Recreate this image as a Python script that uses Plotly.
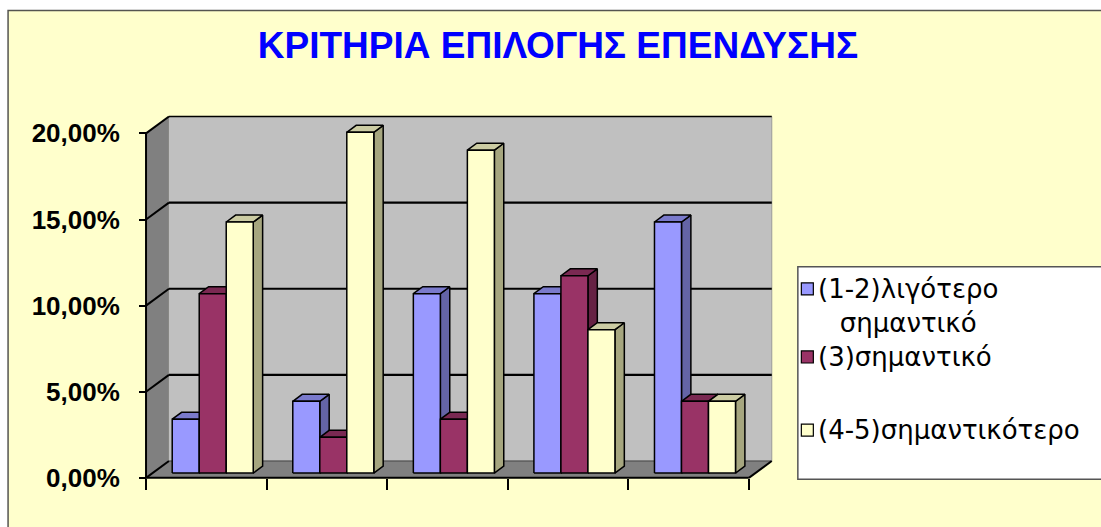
import plotly.graph_objects as go

# ---- data -------------------------------------------------------------
categories = ["", "", "", "", ""]  # the five groups carry no axis labels
series_names = ["(1-2)λιγότερο σημαντικό", "(3)σημαντικό", "(4-5)σημαντικότερο"]
less_important = [3.13, 4.17, 10.42, 10.42, 14.58]
important = [10.42, 2.08, 3.13, 11.46, 4.17]
more_important = [14.58, 19.79, 18.75, 8.33, 4.17]
y_tick_values = [0, 5, 10, 15, 20]
y_tick_labels = ["0,00%", "5,00%", "10,00%", "15,00%", "20,00%"]
title_text = "ΚΡΙΤΗΡΙΑ ΕΠΙΛΟΓΗΣ ΕΠΕΝΔΥΣΗΣ"

series_values = [less_important, important, more_important]

# ---- styling ----------------------------------------------------------
FRONT = ["#9999FF", "#993366", "#FFFFCC"]
TOP = ["#7A7ACC", "#7A2952", "#CCCCA3"]
SIDE = ["#6464A6", "#662244", "#A6A67F"]
BACK_WALL = "#C0C0C0"
SIDE_WALL = "#808080"
FLOOR = "#808080"
CHART_BG = "#FFFFCC"
FONT = "Arial, Liberation Sans, sans-serif"
LEGEND_FONT = "DejaVu Sans, Verdana, sans-serif"

W, H = 1101, 527
PX_CAT = 120.6     # pixels per category
PX_PCT = 17.2      # pixels per percent
X0_PX = 146.0      # pixel of the front-left corner (x = -0.5)
Y0_PX = 477.7      # pixel of the front floor edge (y = 0)
X_RANGE = [-0.55, 4.75]
Y_RANGE = [-0.3, 21.3]

# oblique depth of the 3-D box, in data units
DEPTH_X = 0.19
DEPTH_Y = 0.98
BAR_FRONT = 0.28   # depth fraction where the bar fronts stand
BAR_DEPTH = 0.41   # depth fraction occupied by a bar
BAR_W = 0.224      # width of a single bar, in category units

# plot-area geometry in pixels
ml = X0_PX + (X_RANGE[0] + 0.5) * PX_CAT
pw = (X_RANGE[1] - X_RANGE[0]) * PX_CAT
mr = W - ml - pw
bottom_px = Y0_PX - Y_RANGE[0] * PX_PCT
ph = (Y_RANGE[1] - Y_RANGE[0]) * PX_PCT
mb = H - bottom_px
mt = bottom_px - ph


def px_x(p):
    return (p - ml) / pw


def px_y(p):
    return (bottom_px - p) / ph


fig = go.Figure()

# ---- 3-D bars as projected faces ---------------------------------------
def face(xs, ys, color):
    fig.add_trace(go.Scatter(
        x=xs + [xs[0]], y=ys + [ys[0]], mode="lines", fill="toself",
        fillcolor=color, line=dict(color="black", width=1.5),
        hoverinfo="skip", showlegend=False))


n_series = len(series_values)
base = BAR_FRONT * DEPTH_Y
shift = BAR_FRONT * DEPTH_X
bdx = BAR_DEPTH * DEPTH_X
bdy = BAR_DEPTH * DEPTH_Y
for ci in range(len(categories)):
    left = ci + shift - n_series * BAR_W / 2
    for si in range(n_series):
        v = series_values[si][ci]
        x0 = left + si * BAR_W
        x1 = x0 + BAR_W
        top = base + v
        face([x1, x1 + bdx, x1 + bdx, x1], [base, base + bdy, top + bdy, top], SIDE[si])
        face([x0, x1, x1 + bdx, x0 + bdx], [top, top, top + bdy, top + bdy], TOP[si])
        face([x0, x1, x1, x0], [base, base, top, top], FRONT[si])

# ---- box: walls, floor, gridlines --------------------------------------
xl, xr = -0.5, len(categories) - 0.5
ytop = max(y_tick_values)
shapes = []
# chart background with its frame
shapes.append(dict(type="rect", xref="paper", yref="paper", layer="below",
                   x0=px_x(8), x1=px_x(W + 10), y0=px_y(11), y1=px_y(H + 10),
                   fillcolor=CHART_BG, line=dict(color="#555550", width=1.5)))
shapes.append(dict(type="rect", xref="x", yref="y", layer="below",
                   x0=xl + DEPTH_X, x1=xr + DEPTH_X, y0=DEPTH_Y, y1=ytop + DEPTH_Y,
                   fillcolor=BACK_WALL, line=dict(width=0)))
shapes.append(dict(type="path", xref="x", yref="y", layer="below",
                   path=f"M{xl},0 L{xl + DEPTH_X},{DEPTH_Y} L{xl + DEPTH_X},{ytop + DEPTH_Y} L{xl},{ytop} Z",
                   fillcolor=SIDE_WALL, line=dict(width=0)))
shapes.append(dict(type="path", xref="x", yref="y", layer="below",
                   path=f"M{xl},0 L{xr},0 L{xr + DEPTH_X},{DEPTH_Y} L{xl + DEPTH_X},{DEPTH_Y} Z",
                   fillcolor=FLOOR, line=dict(width=0)))
# back edge of the floor and right edge of the back wall
shapes.append(dict(type="line", xref="x", yref="y", layer="below",
                   x0=xl + DEPTH_X, x1=xr + DEPTH_X, y0=DEPTH_Y, y1=DEPTH_Y,
                   line=dict(color="#404040", width=1)))
shapes.append(dict(type="line", xref="x", yref="y", layer="below",
                   x0=xr + DEPTH_X, x1=xr + DEPTH_X, y0=DEPTH_Y, y1=ytop + DEPTH_Y,
                   line=dict(color="#9A9A9A", width=1)))
for v in y_tick_values[1:]:
    w = 1.5 if v == ytop else 2.2
    shapes.append(dict(type="line", xref="x", yref="y", layer="below",
                       x0=xl + DEPTH_X, x1=xr + DEPTH_X, y0=v + DEPTH_Y, y1=v + DEPTH_Y,
                       line=dict(color="black", width=w)))
for v in y_tick_values:
    shapes.append(dict(type="line", xref="x", yref="y", layer="below",
                       x0=xl, x1=xl + DEPTH_X, y0=v, y1=v + DEPTH_Y,
                       line=dict(color="black", width=2)))
# front axis edges
shapes.append(dict(type="line", xref="x", yref="y", layer="below",
                   x0=xl, x1=xl, y0=0, y1=ytop, line=dict(color="black", width=2)))
shapes.append(dict(type="line", xref="x", yref="y", layer="below",
                   x0=xl, x1=xr, y0=0, y1=0, line=dict(color="black", width=2)))
shapes.append(dict(type="line", xref="x", yref="y", layer="below",
                   x0=xr, x1=xr + DEPTH_X, y0=0, y1=DEPTH_Y, line=dict(color="black", width=2)))

# ---- legend box ----------------------------------------------------------
LEG_LEFT, LEG_TOP, LEG_BOTTOM = 798, 267, 479
shapes.append(dict(type="rect", xref="paper", yref="paper", layer="above",
                   x0=px_x(LEG_LEFT), x1=px_x(W + 10), y0=px_y(LEG_BOTTOM), y1=px_y(LEG_TOP),
                   fillcolor="white", line=dict(color="#555555", width=1.5)))
legend_rows = [306, 357, 430]
swatch_rows = [289, 357, 430]
annotations = []
for si, name in enumerate(series_names):
    cy = swatch_rows[si]
    shapes.append(dict(type="rect", xref="paper", yref="paper", layer="above",
                       x0=px_x(801.5), x1=px_x(813.5), y0=px_y(cy + 6), y1=px_y(cy - 6),
                       fillcolor=FRONT[si], line=dict(color="black", width=1.2)))
    label = name.replace(" ", "<br>") if si == 0 else name
    annotations.append(dict(xref="paper", yref="paper", x=px_x(816), y=px_y(legend_rows[si]),
                            xanchor="left", yanchor="middle", align="center",
                            text=label, showarrow=False,
                            font=dict(family=LEGEND_FONT, size=26, color="black")))

fig.update_layout(
    width=W, height=H, autosize=False,
    margin=dict(l=ml, r=mr, t=mt, b=mb, pad=0),
    paper_bgcolor="white", plot_bgcolor="rgba(0,0,0,0)",
    showlegend=False,
    shapes=shapes, annotations=annotations,
    title=dict(text=title_text, xref="container", yref="container",
               x=558 / W, y=1 - 45 / H, xanchor="center", yanchor="middle",
               font=dict(family=FONT, size=37, color="#0000FF", weight="bold")),
    xaxis=dict(range=X_RANGE, anchor="free", position=(bottom_px - Y0_PX) / ph,
               tickmode="array", tickvals=[i - 0.5 for i in range(len(categories) + 1)],
               showticklabels=False, ticks="outside", ticklen=11, tickwidth=1.5,
               tickcolor="black", showgrid=False, zeroline=False, showline=False,
               fixedrange=True),
    yaxis=dict(range=Y_RANGE, anchor="free", position=(X0_PX - ml) / pw,
               tickmode="array", tickvals=y_tick_values, ticktext=y_tick_labels,
               ticks="outside", ticklen=7, tickwidth=2, tickcolor="black",
               ticklabelstandoff=14,
               tickfont=dict(family=FONT, size=26, color="black", weight="bold"),
               showgrid=False, zeroline=False, showline=False, fixedrange=True),
)

fig.write_html("out.html")
